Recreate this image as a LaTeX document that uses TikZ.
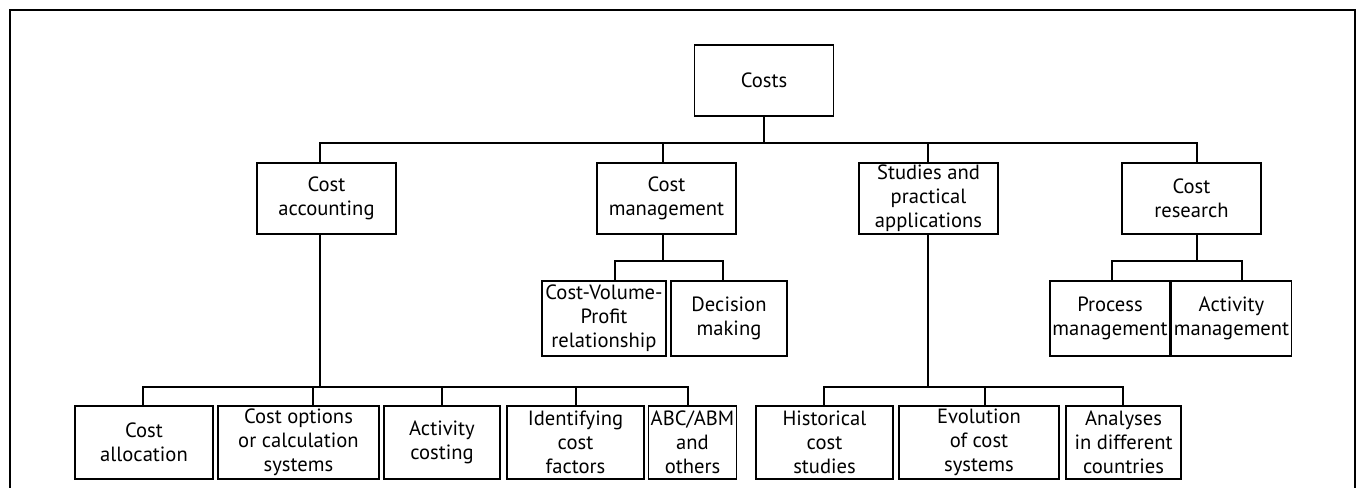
\documentclass[tikz,border=0pt]{standalone}
\usepackage{fontspec}
\setmainfont{PT Sans}
\usetikzlibrary{calc}

\tikzset{
  box/.style={draw, rectangle, align=center, inner xsep=1pt, inner ysep=0pt,
    font=\fontsize{10.3}{12}\selectfont},
  mainbox/.style={box, minimum width=69.5pt, minimum height=35.5pt},
  subbox/.style={box, minimum height=37.5pt},
  leafbox/.style={box, minimum height=36.5pt}
}

\begin{document}
\begin{tikzpicture}[x=0.5pt,y=-0.5pt,line width=0.6pt]
\useasboundingbox (0,0) rectangle (1357,488);
% Frame (open at the bottom)
\draw (10,488) -- (10,10) -- (1355,10) -- (1355,488);

% Top level
\node[mainbox] (costs) at (764,80.5) {Costs};

% Second level
\node[mainbox] (acct) at (326.5,198.5) {Cost\\accounting};
\node[mainbox] (mgmt) at (666.5,198.5) {Cost\\management};
\node[mainbox] (stud) at (928.5,198.5) {Studies and\\practical\\applications};
\node[mainbox] (res)  at (1191.5,198.5) {Cost\\research};

% Third level, short branches
\node[subbox, minimum width=62pt]   (cvp)  at (604,318.5) {Cost-Volume-\\Profit\\relationship};
\node[subbox, minimum width=58pt]   (dec)  at (729,318.5) {Decision\\making};
\node[subbox, minimum width=60pt]   (proc) at (1110,318.5) {Process\\management};
\node[subbox, minimum width=58.5pt] (actm) at (1231.5,318.5) {Activity\\management};

% Bottom row
\node[leafbox, minimum width=69pt]   (alloc) at (144,442.5) {Cost\\allocation};
\node[leafbox, minimum width=80.5pt] (opts)  at (298.5,442.5) {Cost options\\or calculation\\systems};
\node[leafbox, minimum width=58pt]   (actc)  at (442,442.5) {Activity\\costing};
\node[leafbox, minimum width=68.5pt] (ident) at (575.5,442.5) {Identifying\\cost\\factors};
\node[leafbox, minimum width=42.5pt] (abc)   at (692.5,442.5) {ABC/ABM\\and\\others};
\node[leafbox, minimum width=68.5pt] (hist)  at (824.5,442.5) {Historical\\cost\\studies};
\node[leafbox, minimum width=80pt]   (evol)  at (979,442.5) {Evolution\\of cost\\systems};
\node[leafbox, minimum width=57.5pt] (anal)  at (1123.5,442.5) {Analyses\\in different\\countries};

% Connectors
\coordinate (b0) at (764,143);
\draw (costs.south) -- (b0);
\foreach \n/\dx in {acct/-3.25pt,mgmt/-1.75pt,stud/-0.25pt,res/2.75pt}
  \draw ([xshift=\dx]\n.north) |- (b0);

\coordinate (b1) at (320,387);
\draw ([xshift=-3.25pt]acct.south) -- (b1);
\foreach \n/\dx in {alloc/-0.5pt,opts/7.25pt,actc/0pt,ident/0.25pt,abc/-2.25pt}
  \draw ([xshift=\dx]\n.north) |- (b1);

\coordinate (b2) at (663,261);
\draw ([xshift=-1.75pt]mgmt.south) -- (b2);
\foreach \n/\dx in {cvp/5.5pt,dec/-3pt}
  \draw ([xshift=\dx]\n.north) |- (b2);

\coordinate (b3) at (928,387);
\draw ([xshift=-0.25pt]stud.south) -- (b3);
\foreach \n/\dx in {hist/-0.25pt,evol/3pt,anal/-0.25pt}
  \draw ([xshift=\dx]\n.north) |- (b3);

\coordinate (b4) at (1197,261);
\draw ([xshift=2.75pt]res.south) -- (b4);
\foreach \n/\dx in {proc/1pt,actm/5.25pt}
  \draw ([xshift=\dx]\n.north) |- (b4);
\end{tikzpicture}
\end{document}
